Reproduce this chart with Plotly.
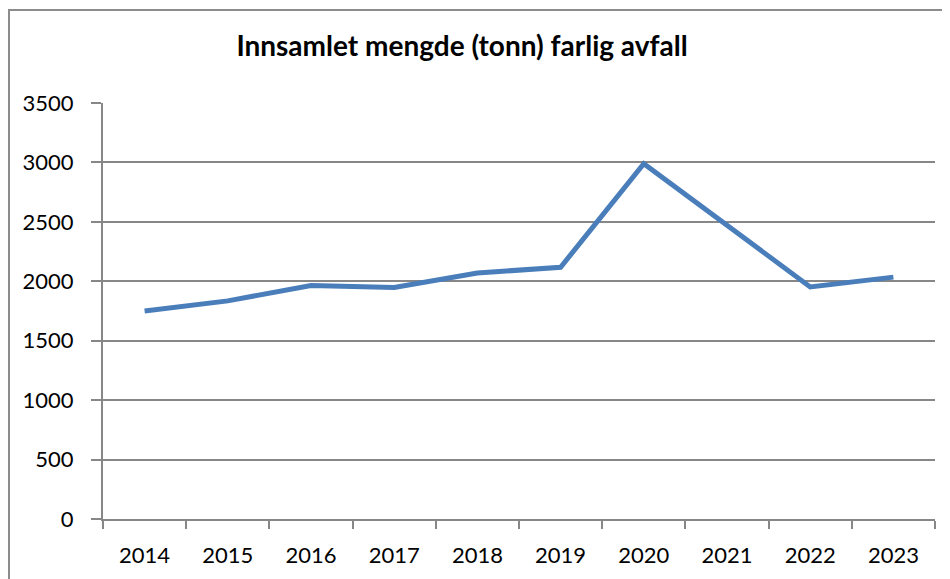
import plotly.graph_objects as go

years = ["2014", "2015", "2016", "2017", "2018", "2019", "2020", "2021", "2022", "2023"]
tonn = [1750, 1835, 1965, 1948, 2070, 2118, 2990, 2470, 1952, 2035]
y_ticks = [0, 500, 1000, 1500, 2000, 2500, 3000, 3500]

W, H = 950, 579
D = 8  # page body margin offset
# plot area in page pixels: x 103..935, y 103..519
L = 103 - D
T = 103 - D
R = W - (935 - D)
B = H - (519 - D)
pw, ph = W - L - R, H - T - B

def px_x(x):
    return (x - D - L) / pw

def px_y(y):
    return (H - B - (y - D)) / ph

fig = go.Figure()
fig.add_trace(go.Scatter(
    x=years, y=tonn, mode="lines",
    line=dict(color="#4A7EBB", width=5),
    hoverinfo="x+y", showlegend=False,
))

grid = "#878787"
fig.update_layout(
    width=W, height=H,
    margin=dict(l=L, r=R, t=T, b=B, autoexpand=False),
    paper_bgcolor="white", plot_bgcolor="white",
    font=dict(family="Lato, Carlito, sans-serif", size=22, color="black"),
    title=dict(text="<b>Innsamlet mengde (tonn) farlig avfall</b>",
               x=(462 - D) / W, xanchor="center",
               y=1 - (46 - D) / H, yanchor="middle",
               font=dict(size=28, family="Lato, sans-serif", color="black")),
    xaxis=dict(type="category", tickson="boundaries", ticks="outside",
               range=[-0.5, len(years) - 0.5],
               ticklen=8, tickwidth=2, tickcolor=grid,
               ticklabelstandoff=16,
               showline=True, linecolor=grid, linewidth=2,
               showgrid=False, zeroline=False, fixedrange=True, automargin=False),
    yaxis=dict(range=[0, 3500], tickvals=y_ticks, ticks="outside",
               ticklen=10, tickwidth=2, tickcolor=grid,
               ticklabelstandoff=13,
               showline=True, linecolor=grid, linewidth=2,
               showgrid=True, gridcolor=grid, gridwidth=2,
               zeroline=False, fixedrange=True, automargin=False),
    shapes=[dict(type="rect", xref="paper", yref="paper", layer="below",
                 x0=px_x(D + 1), x1=px_x(970), y0=px_y(600), y1=px_y(D + 2),
                 line=dict(color="#8c8c8c", width=2), fillcolor="rgba(0,0,0,0)")],
)

fig.write_html("out.html")
